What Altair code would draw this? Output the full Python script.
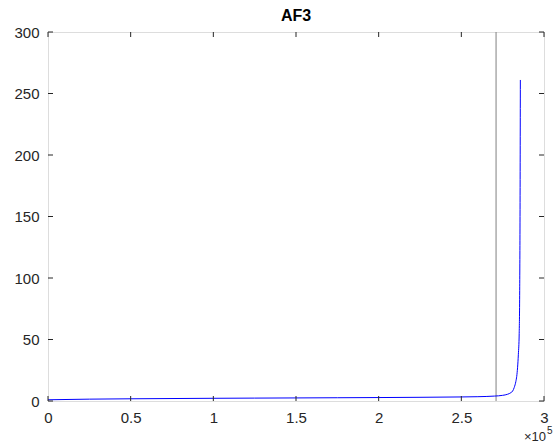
import altair as alt
import pandas as pd

# Curve samples (x in raw units, y value)
x_vals = [0, 25000, 50000, 75000, 100000, 125000, 150000, 175000, 200000,
          225000, 250000, 260000, 270000, 275000, 278000, 280000, 281000,
          282000, 283000, 283500, 284000, 284500, 285000, 285300, 285500,
          285700]
y_vals = [1.0, 1.5, 1.8, 2.0, 2.2, 2.35, 2.5, 2.65, 2.8,
          3.0, 3.3, 3.5, 4.0, 4.6, 5.5, 6.8, 8.0,
          11.0, 16.0, 20.0, 27.0, 38.0, 55.0, 90.0, 150.0,
          261.0]

# Vertical marker position
marker_x = [271000]

x_ticks = [0, 50000, 100000, 150000, 200000, 250000, 300000]
y_ticks = [0, 50, 100, 150, 200, 250, 300]

W, H = 496, 369
FONT = "Liberation Sans"
AX = "#262626"
TICK_LEN = 5
FS = 15

curve = pd.DataFrame({"x": x_vals, "y": y_vals})
marker = pd.DataFrame({"x": marker_x})
xt = pd.DataFrame({"t": x_ticks})
yt = pd.DataFrame({"t": y_ticks})

xs = alt.Scale(domain=[0, 300000], nice=False, zero=False)
ys = alt.Scale(domain=[0, 300], nice=False, zero=False)

x_axis = alt.Axis(values=x_ticks, labelExpr="format(datum.value / 100000, '~g')",
                  ticks=False, grid=False, domain=False, labelPadding=9,
                  labelBaseline="top", labelFlush=False, title=None,
                  labelFontSize=FS, labelColor=AX, labelFont=FONT)
y_axis = alt.Axis(values=y_ticks, ticks=False, grid=False, domain=False,
                  labelPadding=9, labelFlush=False, title=None,
                  labelFontSize=FS, labelColor=AX, labelFont=FONT)

vline = alt.Chart(marker).mark_rule(color="#808080", strokeWidth=1).encode(
    x=alt.X("x:Q", scale=xs, axis=x_axis),
    y=alt.value(0), y2=alt.value(H),
)

line = alt.Chart(curve).mark_line(color="#0000ff", strokeWidth=1,
                                  interpolate="monotone").encode(
    x=alt.X("x:Q", scale=xs, axis=x_axis),
    y=alt.Y("y:Q", scale=ys, axis=y_axis),
)

# Inward ticks on all four sides of the box
tick_bottom = alt.Chart(xt).mark_rule(color=AX, strokeWidth=1).encode(
    x=alt.X("t:Q", scale=xs), y=alt.value(H), y2=alt.value(H - TICK_LEN))
tick_top = alt.Chart(xt).mark_rule(color=AX, strokeWidth=1).encode(
    x=alt.X("t:Q", scale=xs), y=alt.value(0), y2=alt.value(TICK_LEN))
tick_left = alt.Chart(yt).mark_rule(color=AX, strokeWidth=1).encode(
    y=alt.Y("t:Q", scale=ys), x=alt.value(0), x2=alt.value(TICK_LEN))
tick_right = alt.Chart(yt).mark_rule(color=AX, strokeWidth=1).encode(
    y=alt.Y("t:Q", scale=ys), x=alt.value(W), x2=alt.value(W - TICK_LEN))

# Exponent label for the x axis
times10 = alt.Chart(pd.DataFrame({"s": ["×10"]})).mark_text(
    align="left", baseline="alphabetic", fontSize=13, font=FONT, color=AX
).encode(text="s:N", x=alt.value(W - 20), y=alt.value(H + 40))
expo = alt.Chart(pd.DataFrame({"s": ["5"]})).mark_text(
    align="left", baseline="alphabetic", fontSize=10, font=FONT, color=AX
).encode(text="s:N", x=alt.value(W + 3), y=alt.value(H + 33))

chart = alt.layer(
    vline, line, tick_bottom, tick_top, tick_left, tick_right, times10, expo
).resolve_scale(x="shared", y="shared").properties(
    width=W, height=H,
    autosize=alt.AutoSizeParams(type="none"),
    padding={"left": 48, "top": 32, "right": 12, "bottom": 44},
    title=alt.TitleParams("AF3", fontSize=16, fontWeight="bold", font=FONT,
                          color="#000000", anchor="middle", offset=1,
                          frame="group"),
).configure_view(stroke=AX, strokeWidth=1).configure(background="white")

chart.save("out.html", embed_options={"renderer": "svg", "actions": False})
